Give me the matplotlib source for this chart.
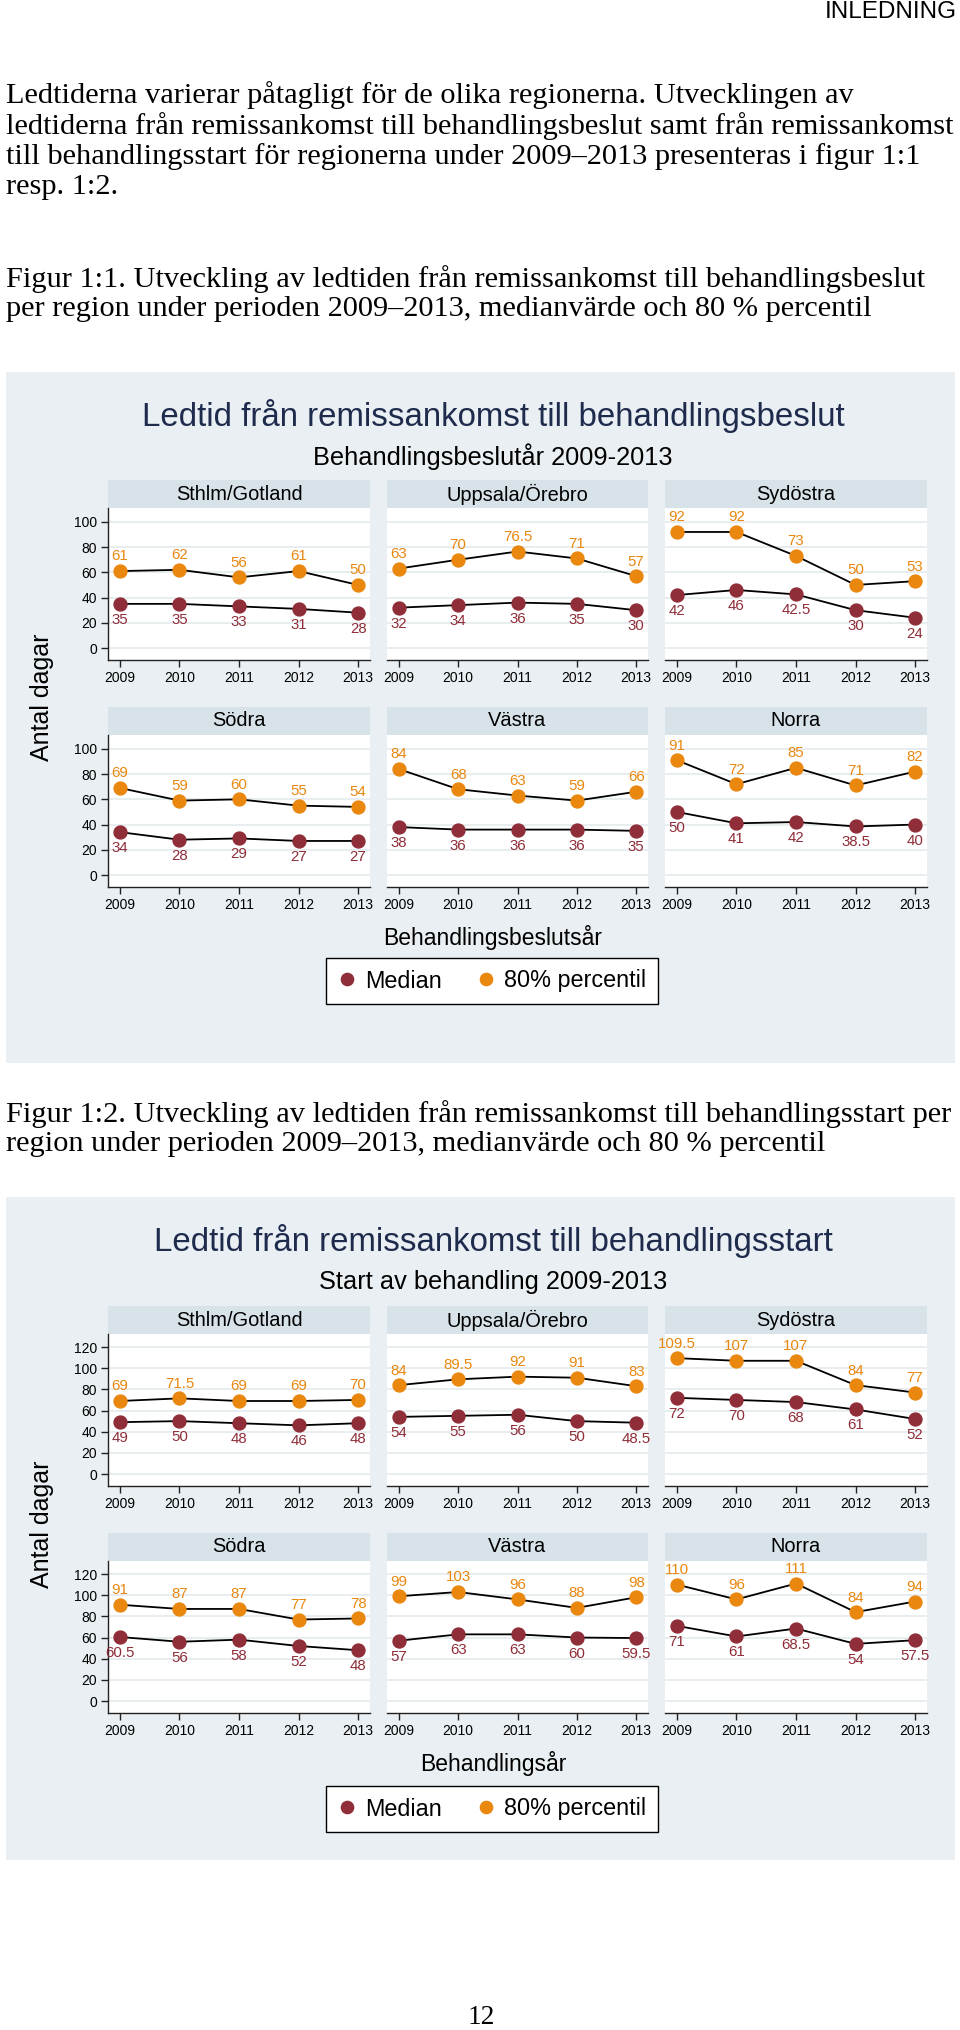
import matplotlib
matplotlib.use("Agg")
import matplotlib.pyplot as plt
from matplotlib.lines import Line2D
from matplotlib.patches import Rectangle

# ---------------- data ----------------
years = [2009, 2010, 2011, 2012, 2013]
regions = ["Sthlm/Gotland", "Uppsala/Örebro", "Sydöstra", "Södra", "Västra", "Norra"]

# Figur 1:1 – remissankomst till behandlingsbeslut
beslut_median_sthlm = [35, 35, 33, 31, 28]
beslut_p80_sthlm = [61, 62, 56, 61, 50]
beslut_median_uppsala = [32, 34, 36, 35, 30]
beslut_p80_uppsala = [63, 70, 76.5, 71, 57]
beslut_median_sydostra = [42, 46, 42.5, 30, 24]
beslut_p80_sydostra = [92, 92, 73, 50, 53]
beslut_median_sodra = [34, 28, 29, 27, 27]
beslut_p80_sodra = [69, 59, 60, 55, 54]
beslut_median_vastra = [38, 36, 36, 36, 35]
beslut_p80_vastra = [84, 68, 63, 59, 66]
beslut_median_norra = [50, 41, 42, 38.5, 40]
beslut_p80_norra = [91, 72, 85, 71, 82]

# Figur 1:2 – remissankomst till behandlingsstart
start_median_sthlm = [49, 50, 48, 46, 48]
start_p80_sthlm = [69, 71.5, 69, 69, 70]
start_median_uppsala = [54, 55, 56, 50, 48.5]
start_p80_uppsala = [84, 89.5, 92, 91, 83]
start_median_sydostra = [72, 70, 68, 61, 52]
start_p80_sydostra = [109.5, 107, 107, 84, 77]
start_median_sodra = [60.5, 56, 58, 52, 48]
start_p80_sodra = [91, 87, 87, 77, 78]
start_median_vastra = [57, 63, 63, 60, 59.5]
start_p80_vastra = [99, 103, 96, 88, 98]
start_median_norra = [71, 61, 68.5, 54, 57.5]
start_p80_norra = [110, 96, 111, 84, 94]

beslut_ticks = [0, 20, 40, 60, 80, 100]
start_ticks = [0, 20, 40, 60, 80, 100, 120]

beslut_median = [beslut_median_sthlm, beslut_median_uppsala, beslut_median_sydostra,
                 beslut_median_sodra, beslut_median_vastra, beslut_median_norra]
beslut_p80 = [beslut_p80_sthlm, beslut_p80_uppsala, beslut_p80_sydostra,
              beslut_p80_sodra, beslut_p80_vastra, beslut_p80_norra]
start_median = [start_median_sthlm, start_median_uppsala, start_median_sydostra,
                start_median_sodra, start_median_vastra, start_median_norra]
start_p80 = [start_p80_sthlm, start_p80_uppsala, start_p80_sydostra,
             start_p80_sodra, start_p80_vastra, start_p80_norra]

# ---------------- style ----------------
W, H = 960, 2030
DPI = 100
SANS = ["Liberation Sans", "DejaVu Sans"]
SERIF = ["Liberation Serif", "DejaVu Serif"]
BG = "#e9eff2"
STRIP = "#d8e3e9"
GRID = "#e6ecef"
C_MED = "#8f2d38"
C_P80 = "#e9870f"
C_TITLE = "#1e2b4d"

plt.rcParams["font.family"] = SANS

fig = plt.figure(figsize=(W / DPI, H / DPI), dpi=DPI)
fig.patch.set_facecolor("white")


def fx(x):
    return x / W


def fy(y):
    return 1 - y / H


def box(x0, y0, x1, y1):
    return [x0 / W, 1 - y1 / H, (x1 - x0) / W, (y1 - y0) / H]


def fig_rect(x0, y0, x1, y1, **kw):
    r = Rectangle((x0 / W, 1 - y1 / H), (x1 - x0) / W, (y1 - y0) / H,
                  transform=fig.transFigure, **kw)
    fig.patches.append(r)
    return r


def fmt(v):
    return f"{v:g}"


# ---------------- body text ----------------
fig.text(fx(957), fy(12), "INLEDNING", ha="right", va="center", fontsize=17.5,
         family=SANS, color="black")

para = [
    "Ledtiderna varierar påtagligt för de olika regionerna. Utvecklingen av",
    "ledtiderna från remissankomst till behandlingsbeslut samt från remissankomst",
    "till behandlingsstart för regionerna under 2009–2013 presenteras i figur 1:1",
    "resp. 1:2.",
]
cap1 = [
    "Figur 1:1. Utveckling av ledtiden från remissankomst till behandlingsbeslut",
    "per region under perioden 2009–2013, medianvärde och 80 % percentil",
]
cap2 = [
    "Figur 1:2. Utveckling av ledtiden från remissankomst till behandlingsstart per",
    "region under perioden 2009–2013, medianvärde och 80 % percentil",
]

# fit serif body size so the longest line spans its width in the reference
renderer = fig.canvas.get_renderer()
probe = fig.text(0, 0, para[1], fontsize=20, family=SERIF)
wpx = probe.get_window_extent(renderer).width
probe.remove()
body_size = 20 * 948 / wpx

for i, line in enumerate(para):
    fig.text(fx(6), fy(95 + i * 30.7), line, ha="left", va="center",
             fontsize=body_size, family=SERIF)
for i, line in enumerate(cap1):
    fig.text(fx(6), fy(279 + i * 30), line, ha="left", va="center",
             fontsize=body_size, family=SERIF)
for i, line in enumerate(cap2):
    fig.text(fx(6), fy(1114 + i * 30), line, ha="left", va="center",
             fontsize=body_size, family=SERIF)

fig.text(fx(481), fy(2017), "12", ha="center", va="center", fontsize=body_size * 0.9,
         family=SERIF)

# ---------------- charts ----------------
cols = [(108, 370), (387, 648), (665, 927)]


def draw_chart(top, bottom, title, subtitle, xtitle, med_list, p80_list, ticks,
               ylim, row_tops, ylabel_y, xtitle_y, legend_y):
    fig_rect(6, top, 955, bottom, facecolor=BG, edgecolor="none", zorder=-5)
    fig.text(fx(493), fy(top + 44), title, ha="center", va="center",
             fontsize=23.8, color=C_TITLE, family=SANS)
    fig.text(fx(493), fy(top + 85), subtitle, ha="center", va="center",
             fontsize=18.3, color="black", family=SANS)
    fig.text(fx(42), fy(ylabel_y), "Antal dagar", rotation=90, ha="center",
             va="center", fontsize=18, family=SANS)
    fig.text(fx(493), fy(xtitle_y), xtitle, ha="center", va="center",
             fontsize=16.5, family=SANS)

    for k in range(6):
        r, c = divmod(k, 3)
        x0, x1 = cols[c]
        st = row_tops[r]
        fig_rect(x0, st, x1, st + 28, facecolor=STRIP, edgecolor="none", zorder=-4)
        fig.text(fx((x0 + x1) / 2), fy(st + 14), regions[k], ha="center",
                 va="center", fontsize=14.4, family=SANS)
        ax = fig.add_axes(box(x0, st + 28, x1, st + 180))
        ax.set_facecolor("white")
        ax.set_xlim(2008.8, 2013.2)
        ax.set_ylim(*ylim)
        ax.set_yticks(ticks)
        ax.set_xticks(years)
        ax.set_xticklabels([str(y) for y in years])
        ax.yaxis.grid(True, color=GRID, lw=1.3)
        ax.set_axisbelow(True)
        for s in ("top", "right"):
            ax.spines[s].set_visible(False)
        ax.spines["bottom"].set_color("#222222")
        ax.spines["bottom"].set_linewidth(1.0)
        ax.tick_params(axis="x", direction="out", length=5, width=1,
                       labelsize=10, pad=3, color="#222222")
        if c == 0:
            ax.spines["left"].set_color("#222222")
            ax.spines["left"].set_linewidth(1.0)
            ax.tick_params(axis="y", direction="out", length=5, width=1,
                           labelsize=10, pad=3, color="#222222")
        else:
            ax.spines["left"].set_visible(False)
            ax.tick_params(axis="y", left=False, labelleft=False)

        med = med_list[k]
        p80 = p80_list[k]
        ax.plot(years, p80, "-o", color="black", lw=1.3, ms=9.3,
                mfc=C_P80, mec=C_P80, zorder=3, clip_on=False)
        ax.plot(years, med, "-o", color="black", lw=1.3, ms=9.3,
                mfc=C_MED, mec=C_MED, zorder=3, clip_on=False)
        for xv, v in zip(years, p80):
            ax.annotate(fmt(v), (xv, v), xytext=(0, 10.5), textcoords="offset points",
                        ha="center", va="center", fontsize=10.8, color=C_P80,
                        annotation_clip=False)
        for xv, v in zip(years, med):
            ax.annotate(fmt(v), (xv, v), xytext=(0, -11.5), textcoords="offset points",
                        ha="center", va="center", fontsize=10.8, color=C_MED,
                        annotation_clip=False)

    handles = [Line2D([], [], ls="none", marker="o", ms=8.8, mfc=C_MED, mec=C_MED),
               Line2D([], [], ls="none", marker="o", ms=8.8, mfc=C_P80, mec=C_P80)]
    leg = fig.legend(handles, ["Median", "80% percentil"], loc="center",
                     bbox_to_anchor=(fx(492), fy(legend_y)), ncol=2,
                     fontsize=16.8, frameon=True, fancybox=False,
                     handlelength=0.8, handletextpad=0.38, columnspacing=1.5,
                     borderpad=0.5, borderaxespad=0)
    fr = leg.get_frame()
    fr.set_edgecolor("black")
    fr.set_linewidth(1.0)
    fr.set_facecolor("white")
    fr.set_alpha(1)


draw_chart(372, 1063, "Ledtid från remissankomst till behandlingsbeslut",
           "Behandlingsbeslutår 2009-2013", "Behandlingsbeslutsår",
           beslut_median, beslut_p80, beslut_ticks, (-9.5, 111),
           [480, 707], 697, 938, 981)

draw_chart(1197, 1860, "Ledtid från remissankomst till behandlingsstart",
           "Start av behandling 2009-2013", "Behandlingsår",
           start_median, start_p80, start_ticks, (-11.3, 132.3),
           [1306, 1533], 1524, 1763, 1809)

fig.savefig("out.png", dpi=DPI)
